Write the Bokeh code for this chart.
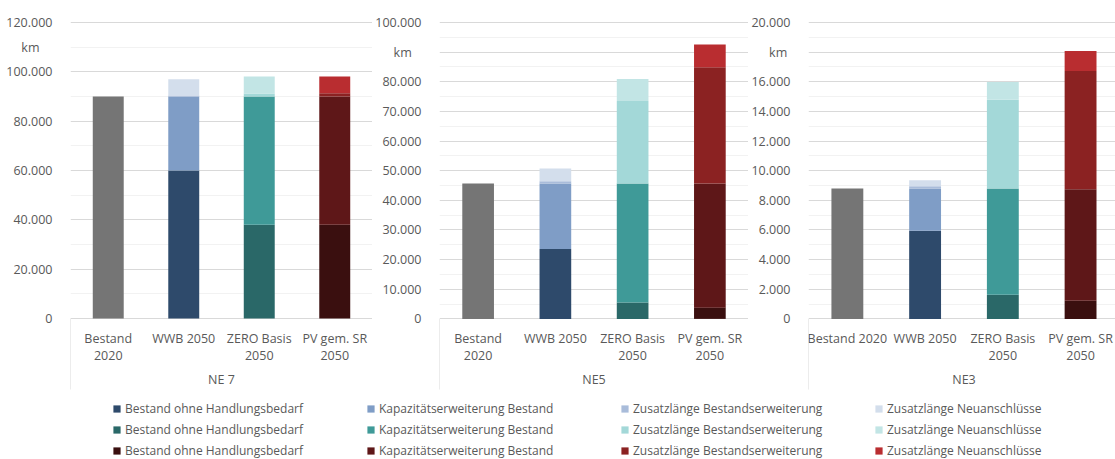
from bokeh.plotting import figure
from bokeh.layouts import row, column
from bokeh.models import ColumnDataSource, Range1d, FixedTicker, Legend, LegendItem
from bokeh.core.properties import value
from bokeh.embed import file_html
from bokeh.resources import INLINE

# ---------------- data ----------------
components = ["Bestand ohne Handlungsbedarf", "Kapazitätserweiterung Bestand",
              "Zusatzlänge Bestandserweiterung", "Zusatzlänge Neuanschlüsse"]
scenarios = ["WWB 2050", "ZERO Basis 2050", "PV gem. SR 2050"]

labels_ne7 = ["Bestand\n2020", "WWB 2050", "ZERO Basis\n2050", "PV gem. SR\n2050"]
labels_ne5 = ["Bestand\n2020", "WWB 2050", "ZERO Basis\n2050", "PV gem. SR\n2050"]
labels_ne3 = ["Bestand 2020", "WWB 2050", "ZERO Basis\n2050", "PV gem. SR\n2050"]

ne7_bestand_2020 = 90000
ne7_wwb = [60000, 30000, 400, 6600]
ne7_zero = [38000, 52000, 1200, 6900]
ne7_pv = [38000, 52000, 1300, 6800]

ne5_bestand_2020 = 45700
ne5_wwb = [23600, 22100, 700, 4300]
ne5_zero = [5500, 40200, 27800, 7400]
ne5_pv = [3800, 41900, 39200, 7700]

ne3_bestand_2020 = 8800
ne3_wwb = [5950, 2850, 150, 400]
ne3_zero = [1630, 7170, 5990, 1200]
ne3_pv = [1230, 7520, 7980, 1340]

ticks_ne7 = [0, 20000, 40000, 60000, 80000, 100000, 120000]
ticks_ne5 = [0, 10000, 20000, 30000, 40000, 50000, 60000, 70000, 80000, 90000, 100000]
ticks_ne3 = [0, 2000, 4000, 6000, 8000, 10000, 12000, 14000, 16000, 18000, 20000]
unit = "km"

# ---------------- styles ----------------
GRAY = "#757575"
BLUE = ["#2E4A6B", "#7F9DC6", "#A9BCDA", "#D3DEEC"]
TEAL = ["#2A6868", "#3F9A98", "#A3D8D8", "#C2E5E5"]
RED = ["#3A0F0F", "#5E1718", "#8B2222", "#B92D30"]
PALETTES = [BLUE, TEAL, RED]
FONT = "Open Sans"
TXT = "#595959"
NBSP = "\u00a0"
PANEL_H = 393


def fmt(v):
    return f"{v:,}".replace(",", ".")


def panel(name, cats, b2020, scen_vals, ticks, minor, km_value, km_pad, width, left,
          top_px, x_end=3.5):
    ymax = ticks[-1]
    zero_px, bottom_px = 318, PANEL_H
    upp = ymax / (zero_px - top_px)
    y_start = -(bottom_px - zero_px) * upp
    y_end = ymax + 2 * upp
    y_sep = -(389 - zero_px) * upp

    data = {"x": [0, 1, 2, 3], "b2020": [b2020, 0, 0, 0]}
    stackers, colors = ["b2020"], [GRAY]
    for k, vals in enumerate(scen_vals):
        for j, v in enumerate(vals):
            col = f"s{k}c{j}"
            data[col] = [v if i == k + 1 else 0 for i in range(4)]
            stackers.append(col)
            colors.append(PALETTES[k][j])
    src = ColumnDataSource(data)

    p = figure(width=width, height=PANEL_H, x_range=Range1d(-0.5, x_end),
               y_range=Range1d(y_start, y_end), toolbar_location=None,
               output_backend="svg", x_axis_location=None,
               min_border_left=left, min_border_right=0,
               min_border_top=top_px - 2, min_border_bottom=0,
               outline_line_color=None)
    p.xgrid.visible = False
    p.ygrid.ticker = FixedTicker(ticks=ticks, minor_ticks=minor)
    p.ygrid.grid_line_color = "#D9D9D9"
    p.ygrid.minor_grid_line_color = "#F2F2F2"

    ax = p.yaxis[0]
    axis_ticks = sorted(set(ticks) | {km_value})
    ax.ticker = FixedTicker(ticks=axis_ticks)
    ax.major_label_overrides = {t: (unit + NBSP * km_pad if t == km_value else fmt(t))
                                for t in axis_ticks}
    ax.axis_line_color = None
    ax.major_tick_line_color = None
    ax.minor_tick_line_color = None
    ax.major_label_standoff = 12
    ax.major_label_text_font = FONT
    ax.major_label_text_font_size = "12.5px"
    ax.major_label_text_color = TXT

    p.vbar_stack(stackers, x="x", width=0.41, fill_color=colors, line_color=None, source=src)

    # multi-level category axis drawn below the zero line
    p.segment(x0=[-0.5, 3.5], y0=[0, 0], x1=[-0.5, 3.5], y1=[y_sep, y_sep],
              line_color="#D9D9D9", line_width=1)
    cat_src = ColumnDataSource({"x": [0, 1, 2, 3], "y": [0, 0, 0, 0], "t": cats})
    p.text(x="x", y="y", text="t", source=cat_src, y_offset=11, text_align="center",
           text_baseline="top", text_font=value(FONT), text_font_size=value("12.5px"),
           text_color=TXT, text_line_height=1.0)
    p.text(x=[1.5], y=[0], text=[name], y_offset=52, text_align="center",
           text_baseline="top", text_font=value(FONT), text_font_size=value("12.5px"),
           text_color=TXT)
    return p


p1 = panel("NE 7", labels_ne7, ne7_bestand_2020, [ne7_wwb, ne7_zero, ne7_pv],
           ticks_ne7, [10000, 30000, 50000, 70000, 90000, 110000], 110000, 4,
           width=372, left=70, top_px=22)
p2 = panel("NE5", labels_ne5, ne5_bestand_2020, [ne5_wwb, ne5_zero, ne5_pv],
           ticks_ne5, [5000 + 10000 * i for i in range(10)], 90000, 3,
           width=376, left=65, top_px=20)
p3 = panel("NE3", labels_ne3, ne3_bestand_2020, [ne3_wwb, ne3_zero, ne3_pv],
           ticks_ne3, [1000 + 2000 * i for i in range(10)], 18000, 1,
           width=367, left=55, top_px=20, x_end=-0.5 + 312 / 79)

# ---------------- legend ----------------
lg = figure(width=1115, height=459 - PANEL_H, x_range=Range1d(0, 1), y_range=Range1d(0, 1),
            toolbar_location=None, output_backend="svg", x_axis_location=None,
            y_axis_location=None, min_border=0, outline_line_color=None)
lg.grid.visible = False
items = []
for j, comp in enumerate(components):
    for pal in PALETTES:
        r = lg.vbar(x=[-10], bottom=[0], top=[0], width=0.5, fill_color=pal[j],
                    line_color=None)
        items.append(LegendItem(label=comp, renderers=[r]))
legend = Legend(items=items, ncols=4, location=(112, 0), padding=0, margin=0,
                spacing=4, glyph_width=9, glyph_height=9, label_standoff=4,
                label_width=237, label_height=13, label_text_font=FONT,
                label_text_font_size="12px", label_text_color=TXT,
                background_fill_alpha=0, border_line_color=None)
lg.add_layout(legend, "center")

layout = column(row(p1, p2, p3), lg)
open("out.html", "w").write(file_html(layout, INLINE))
